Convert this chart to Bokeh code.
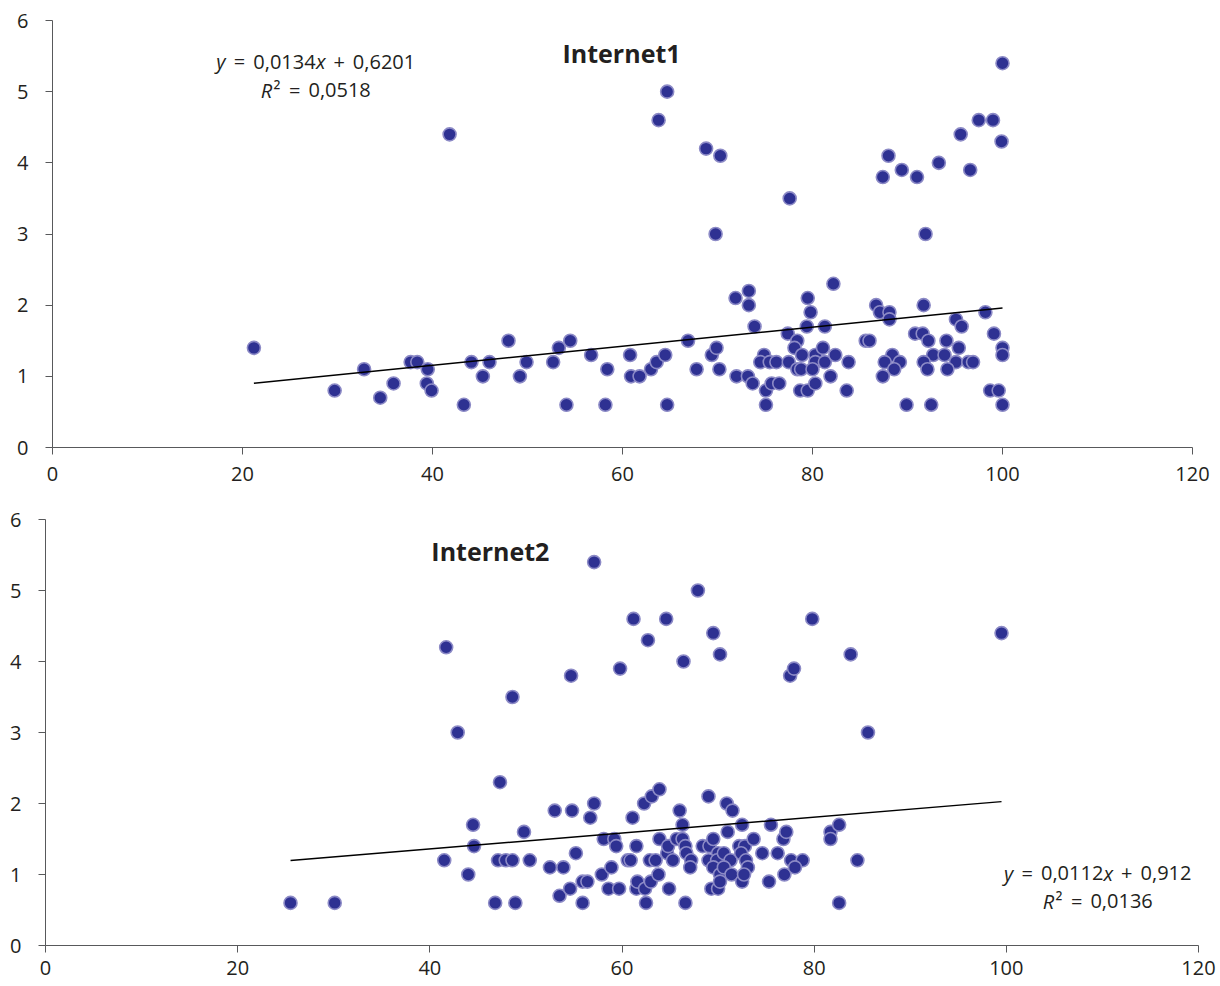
from bokeh.plotting import figure
from bokeh.models import Label, Range1d, FixedTicker
from bokeh.layouts import column, row
from bokeh.embed import file_html
from bokeh.resources import INLINE

# ---------------- data ----------------
top_x = [21.2, 29.7, 32.8, 34.5, 35.9, 37.7, 38.4, 39.5, 39.4, 39.9, 41.8, 43.3, 44.1, 45.3, 46.0,
         48.0, 49.2, 49.9, 52.7, 53.3, 54.5, 54.1, 56.7, 58.4, 58.2,
         60.8, 60.9, 61.8, 63.0, 63.6, 64.5, 64.7, 63.8, 64.7, 66.9, 67.8, 68.8, 70.3, 69.8, 69.4,
         69.9, 70.2, 71.9, 73.3, 73.3, 73.9, 72.0, 73.2, 73.7, 75.1, 75.1, 74.9, 74.5, 75.5, 75.7,
         76.2, 76.5, 77.4, 77.5, 77.6, 78.4, 78.1, 78.9, 78.4, 78.8, 78.7, 79.5, 79.8, 79.4, 79.5,
         82.2, 81.3, 80.3, 81.1, 80.3, 81.3, 82.4, 83.8, 80.0, 81.9, 80.3, 83.6,
         86.7, 87.1, 88.1, 88.1, 91.7, 85.6, 86.0, 88.4, 87.6, 89.2, 88.6, 87.4, 90.8, 91.6, 92.2,
         94.1, 95.1, 95.7, 98.2, 99.1, 100.0, 100.0, 92.7, 93.9, 95.4, 91.7, 95.1, 96.4, 96.9,
         92.1, 94.2, 98.7, 99.6, 89.9, 92.5, 100.0,
         87.4, 88.0, 89.4, 91.0, 93.3, 91.9, 95.6, 96.6, 97.5, 99.0, 99.9, 100.0]
top_y = [1.4, 0.8, 1.1, 0.7, 0.9, 1.2, 1.2, 1.1, 0.9, 0.8, 4.4, 0.6, 1.2, 1.0, 1.2,
         1.5, 1.0, 1.2, 1.2, 1.4, 1.5, 0.6, 1.3, 1.1, 0.6,
         1.3, 1.0, 1.0, 1.1, 1.2, 1.3, 0.6, 4.6, 5.0, 1.5, 1.1, 4.2, 4.1, 3.0, 1.3,
         1.4, 1.1, 2.1, 2.2, 2.0, 1.7, 1.0, 1.0, 0.9, 0.8, 0.6, 1.3, 1.2, 1.2, 0.9,
         1.2, 0.9, 1.6, 1.2, 3.5, 1.5, 1.4, 1.3, 1.1, 1.1, 0.8, 2.1, 1.9, 1.7, 0.8,
         2.3, 1.7, 1.3, 1.4, 1.2, 1.2, 1.3, 1.2, 1.1, 1.0, 0.9, 0.8,
         2.0, 1.9, 1.9, 1.8, 2.0, 1.5, 1.5, 1.3, 1.2, 1.2, 1.1, 1.0, 1.6, 1.6, 1.5,
         1.5, 1.8, 1.7, 1.9, 1.6, 1.4, 1.3, 1.3, 1.3, 1.4, 1.2, 1.2, 1.2, 1.2,
         1.1, 1.1, 0.8, 0.8, 0.6, 0.6, 0.6,
         3.8, 4.1, 3.9, 3.8, 4.0, 3.0, 4.4, 3.9, 4.6, 4.6, 4.3, 5.4]

bot_x = [25.5, 30.1, 41.7, 42.9, 41.5, 44.0, 44.5, 44.6, 46.8, 47.3, 47.1, 47.9, 48.6, 48.6, 48.9,
         49.8, 50.4, 52.5, 53.0, 53.5, 53.9, 54.6, 54.7, 54.8, 55.2, 55.9, 56.4, 55.9, 56.7, 57.1,
         57.1, 57.9, 58.1, 58.9, 58.6, 59.2, 59.4, 59.7, 59.8, 60.6, 60.9, 61.1, 61.5, 61.5, 61.6,
         62.3, 63.1, 63.9, 62.5, 62.4, 63.0, 63.8, 62.9, 63.5, 63.9, 64.7, 64.8, 64.9, 65.3, 65.7,
         66.3, 66.6, 66.7, 67.2, 67.1, 66.0, 66.3, 66.6, 68.4, 69.1, 69.5, 70.0, 69.0, 69.9, 70.6,
         71.3, 69.5, 70.2, 70.6, 71.4, 69.3, 70.0, 70.2, 69.0, 70.9, 71.5, 71.0, 72.5, 72.2, 72.8,
         72.4, 72.9, 73.1, 72.5, 72.7, 73.7, 74.6, 75.5, 75.3, 76.2, 76.8, 77.1, 76.9, 77.6, 78.8,
         78.0, 81.7, 81.7, 82.6, 84.5, 82.6,
         61.2, 64.6, 62.7, 67.9, 69.5, 79.8, 99.5, 66.4, 70.2, 77.5, 77.9, 83.8, 85.6]
bot_y = [0.6, 0.6, 4.2, 3.0, 1.2, 1.0, 1.7, 1.4, 0.6, 2.3, 1.2, 1.2, 1.2, 3.5, 0.6,
         1.6, 1.2, 1.1, 1.9, 0.7, 1.1, 0.8, 3.8, 1.9, 1.3, 0.9, 0.9, 0.6, 1.8, 2.0,
         5.4, 1.0, 1.5, 1.1, 0.8, 1.5, 1.4, 0.8, 3.9, 1.2, 1.2, 1.8, 1.4, 0.8, 0.9,
         2.0, 2.1, 2.2, 0.6, 0.8, 0.9, 1.0, 1.2, 1.2, 1.5, 1.3, 1.4, 0.8, 1.2, 1.5,
         1.5, 1.4, 1.3, 1.2, 1.1, 1.9, 1.7, 0.6, 1.4, 1.4, 1.5, 1.3, 1.2, 1.2, 1.3,
         1.2, 1.1, 1.0, 1.1, 1.0, 0.8, 0.8, 0.9, 2.1, 2.0, 1.9, 1.6, 1.7, 1.4, 1.4,
         1.3, 1.2, 1.1, 0.9, 1.0, 1.5, 1.3, 1.7, 0.9, 1.3, 1.5, 1.6, 1.0, 1.2, 1.2,
         1.1, 1.6, 1.5, 1.7, 1.2, 0.6,
         4.6, 4.6, 4.3, 5.0, 4.4, 4.6, 4.4, 4.0, 4.1, 3.8, 3.9, 4.1, 3.0]

top_title = "Internet1"
bot_title = "Internet2"
top_slope, top_intercept = 0.0134, 0.6201
bot_slope, bot_intercept = 0.0112, 0.912
top_eq = ["y", "=", "0,0134", "x", "+", "0,6201"]
top_r2 = ["R", "\u00b2", "=", "0,0518"]
bot_eq = ["y", "=", "0,0112", "x", "+", "0,912"]
bot_r2 = ["R", "\u00b2", "=", "0,0136"]
x_ticks = [0, 20, 40, 60, 80, 100, 120]
y_ticks = [0, 1, 2, 3, 4, 5, 6]

FONT = "Open Sans"
TXT = "#231f20"
AX = "#58595b"
FILL = "#2E3192"
EDGE = "#8c8ac6"

# approximate advance widths for 20px Open Sans
def piece_width(t):
    w = 0.0
    for ch in t:
        if ch.isdigit():
            w += 11.44
        elif ch == ",":
            w += 4.9
        elif ch in "=+":
            w += 11.44
        elif ch == "\u00b2":
            w += 7.4
        elif ch == "R":
            w += 12.3
        else:
            w += 9.5
    return w


def add_equation(p, cx, y, parts, gap=8.0, size=20):
    items = []
    for i, t in enumerate(parts):
        italic = t in ("y", "x", "R")
        w = piece_width(t)
        nxt = parts[i + 1] if i + 1 < len(parts) else None
        if nxt is None:
            g = 0
        elif t == "R" or nxt == "x":
            g = 0.5
        elif t == "\u00b2":
            g = 4
        else:
            g = gap
        items.append((t, italic, w, g))
    total = sum(w + g for _, _, w, g in items)
    off = -total / 2.0
    for t, italic, w, g in items:
        p.add_layout(Label(x=cx, y=y, x_units="data", y_units="data", x_offset=off,
                           text=t, text_font=FONT,
                           text_font_style="italic" if italic else "normal",
                           text_font_size=f"{size}px", text_color=TXT,
                           text_align="left", text_baseline="alphabetic"))
        off += w + g


def make_fig(xs, ys, slope, intercept, height, bl, br, bt, bb, standoff_x):
    p = figure(width=1220, height=height, x_range=Range1d(0, 120), y_range=Range1d(0, 6),
               output_backend="svg", toolbar_location=None, tools="",
               min_border_left=bl, min_border_right=br, min_border_top=bt, min_border_bottom=bb)
    p.xgrid.visible = False
    p.ygrid.visible = False
    p.outline_line_color = None
    p.background_fill_color = "white"
    p.border_fill_color = "white"
    for ax, ticks in ((p.xaxis, x_ticks), (p.yaxis, y_ticks)):
        ax.ticker = FixedTicker(ticks=ticks)
        ax.axis_line_color = AX
        ax.axis_line_width = 1
        ax.major_tick_line_color = AX
        ax.major_tick_out = 7
        ax.major_tick_in = 0
        ax.minor_tick_line_color = None
        ax.major_label_text_font = FONT
        ax.major_label_text_font_size = "20px"
        ax.major_label_text_color = TXT
    p.xaxis.major_label_standoff = standoff_x
    p.yaxis.major_label_standoff = 17
    p.scatter(xs, ys, size=13, marker="circle", fill_color=FILL, line_color=EDGE, line_width=1.6)
    x0, x1 = min(xs), max(xs)
    p.line([x0, x1], [slope * x0 + intercept, slope * x1 + intercept], line_color="black", line_width=1.5)
    return p


p1 = make_fig(top_x, top_y, top_slope, top_intercept, 495, 52, 28, 20, 48, 12)
p1.add_layout(Label(x=59.9, y=5.54, text=top_title, text_font=FONT, text_font_style="bold",
                    text_font_size="25px", text_color=TXT, text_align="center", text_baseline="alphabetic"))
add_equation(p1, 27.7, 5.42, top_eq)
add_equation(p1, 27.7, 5.02, top_r2)

p2 = make_fig(bot_x, bot_y, bot_slope, bot_intercept, 491, 45, 22, 24, 41, 8)
p2.add_layout(Label(x=46.3, y=5.55, text=bot_title, text_font=FONT, text_font_style="bold",
                    text_font_size="25px", text_color=TXT, text_align="center", text_baseline="alphabetic"))
add_equation(p2, 109.5, 1.02, bot_eq)
add_equation(p2, 109.5, 0.62, bot_r2)

layout = column(row(p1), row(p2), spacing=0)
open("out.html", "w").write(file_html(layout, INLINE))
